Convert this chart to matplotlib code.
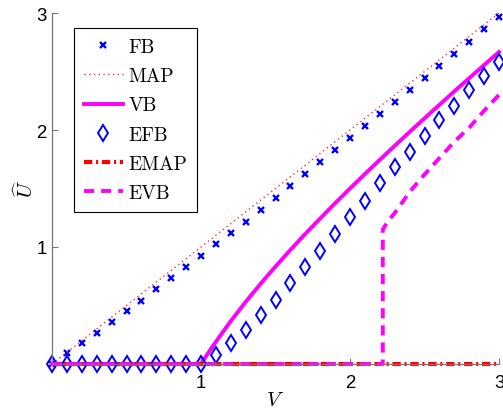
import matplotlib
matplotlib.use("Agg")
import matplotlib.pyplot as plt
import numpy as np

plt.rcParams["mathtext.fontset"] = "cm"
plt.rcParams["axes.unicode_minus"] = False

# Observation grid used by the marker series
v_grid = np.round(np.linspace(0.0, 3.0, 31), 2)

# Full Bayes estimate
fb = [0.0, 0.09, 0.177, 0.268, 0.362, 0.45, 0.541, 0.641, 0.735, 0.826,
      0.923, 1.022, 1.12, 1.216, 1.316, 1.416, 1.519, 1.62, 1.725, 1.83,
      1.93, 2.03, 2.137, 2.24, 2.342, 2.444, 2.55, 2.65, 2.755, 2.86, 2.965]

# MAP estimate
v_map = [0.0, 3.0]
u_map = [0.0, 3.0]

# Variational Bayes estimate
v_vb = [0.0, 1.0, 1.05, 1.1, 1.2, 1.3, 1.4, 1.5, 1.6, 1.7, 1.8, 1.9, 2.0,
        2.1, 2.2, 2.3, 2.4, 2.5, 2.6, 2.7, 2.8, 2.9, 3.0]
u_vb = [0.0, 0.0, 0.098, 0.19, 0.367, 0.531, 0.686, 0.833, 0.975, 1.112,
        1.244, 1.374, 1.50, 1.624, 1.745, 1.865, 1.983, 2.10, 2.215, 2.33,
        2.443, 2.555, 2.667]

# Empirical full Bayes estimate
efb = [0.0] * 11 + [0.077, 0.177, 0.29, 0.419, 0.544, 0.69, 0.826, 0.969,
                    1.108, 1.254, 1.39, 1.544, 1.686, 1.809, 1.952, 2.088,
                    2.208, 2.342, 2.459, 2.584]

# Empirical MAP estimate
v_emap = [0.0, 3.0]
u_emap = [0.0, 0.0]

# Empirical variational Bayes estimate
v_evb = [0.0, 2.22, 2.22, 2.26, 2.3, 2.4, 2.5, 2.6, 2.7, 2.8, 2.9, 3.0]
u_evb = [0.0, 0.0, 1.15, 1.23, 1.29, 1.47, 1.62, 1.76, 1.90, 2.02, 2.165, 2.30]

labels = ["FB", "MAP", "VB", "EFB", "EMAP", "EVB"]
x_ticks = [1, 2, 3]
y_ticks = [1, 2, 3]

fig = plt.figure(figsize=(5.03, 4.10), dpi=100)
ax = fig.add_axes([52 / 503, 45 / 410, 447 / 503, 351 / 410])

h_fb, = ax.plot(v_grid, fb, linestyle="none", marker="x", color="blue",
                markersize=5, markeredgewidth=1.7, clip_on=False)
h_map, = ax.plot(v_map, u_map, color="#ff3030", linewidth=1.0,
                 linestyle=(0, (1, 2.4)), clip_on=False)
h_vb, = ax.plot(v_vb, u_vb, color="#ff00ff", linewidth=2.8, clip_on=False)
h_efb, = ax.plot(v_grid, efb, linestyle="none", marker="d", markersize=8,
                 markerfacecolor="none", markeredgecolor="blue",
                 markeredgewidth=1.4, clip_on=False)
h_emap, = ax.plot(v_emap, u_emap, color="red", linewidth=3,
                  linestyle=(0, (2, 0.9, 0.5, 0.9)), clip_on=False)
h_evb, = ax.plot(v_evb, u_evb, color="#ff00ff", linewidth=2.8,
                 linestyle=(0, (2.6, 1.8)), clip_on=False)

ax.set_xlim(0, 3)
ax.set_ylim(0, 3)
ax.set_xticks(x_ticks)
ax.set_yticks(y_ticks)
ax.set_xticklabels([str(t) for t in x_ticks])
ax.set_yticklabels([str(t) for t in y_ticks])
for side in ("top", "right"):
    ax.spines[side].set_visible(False)
for side in ("left", "bottom"):
    ax.spines[side].set_color("#777777")
    ax.spines[side].set_linewidth(0.9)
ax.tick_params(direction="in", length=4, width=0.8, color="#777777",
               labelsize=13.4, labelcolor="black")
ax.tick_params(axis="x", pad=7)
ax.tick_params(axis="y", pad=4)
for lab in ax.get_xticklabels() + ax.get_yticklabels():
    lab.set_fontfamily("Liberation Sans")

ax.set_xlabel(r"$V$", fontsize=15)
ax.xaxis.label.set_va("center")
ax.xaxis.set_label_coords(0.499, -0.10)
ax.set_ylabel(r"$\widehat{U}$", fontsize=15)
ax.yaxis.label.set_va("center")
ax.yaxis.set_label_coords(-0.06, 0.50)

leg = ax.legend([h_fb, h_map, h_vb, h_efb, h_emap, h_evb], labels,
                loc="upper left", bbox_to_anchor=(0.049, 0.956),
                borderaxespad=0, fancybox=False, framealpha=1,
                edgecolor="black", prop=dict(family="cmr10", size=14),
                handlelength=2.0, handletextpad=0.3, labelspacing=0.58,
                borderpad=0.5, numpoints=1)
leg.get_frame().set_linewidth(0.8)

fig.savefig("out.png", dpi=100)
